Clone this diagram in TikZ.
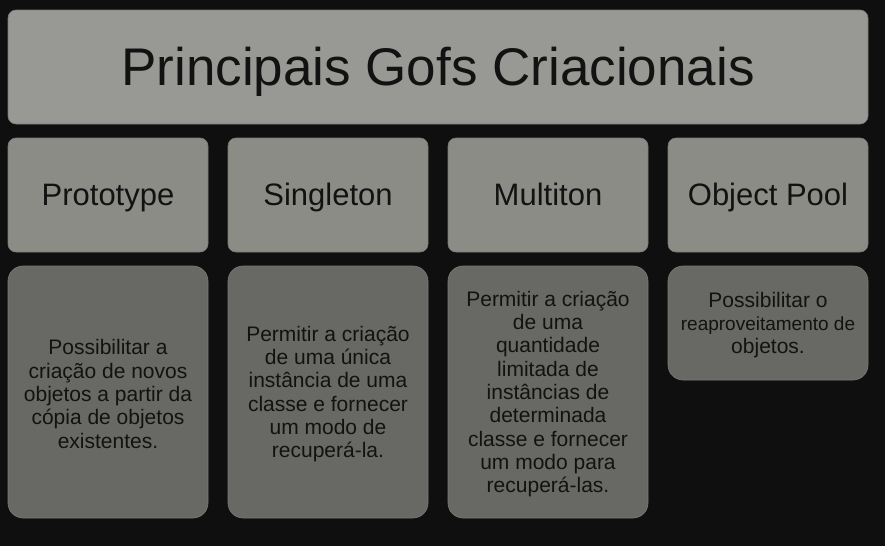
\documentclass[tikz,border=0pt]{standalone}
\usepackage{fontspec}
\setmainfont{Liberation Sans}
\definecolor{bgc}{HTML}{0F0F0F}
\definecolor{titlec}{HTML}{989894}
\definecolor{headc}{HTML}{8C8C87}
\definecolor{descc}{HTML}{686864}
\definecolor{edgec}{HTML}{7A7A76}
\definecolor{txtc}{HTML}{121212}
\tikzset{
  titlebox/.style={fill=titlec, draw=edgec, line width=0.6pt, rounded corners=8pt, inner sep=0pt,
    minimum width=860pt, minimum height=114pt, text=txtc, text height=38pt, text depth=2pt,
    font=\fontsize{53}{60}\selectfont},
  headbox/.style={fill=headc, draw=edgec, line width=0.6pt, rounded corners=8pt, inner sep=0pt,
    minimum width=200pt, minimum height=114pt, text=txtc, text height=22pt, text depth=2pt,
    font=\fontsize{31}{36}\selectfont},
  descbox/.style={fill=descc, draw=edgec, line width=0.6pt, rounded corners=15pt, inner sep=0pt,
    minimum width=200pt, text=txtc, align=center, font=\fontsize{21}{23.3}\selectfont},
}
\begin{document}
\begin{tikzpicture}[x=1pt,y=-1pt]
\fill[bgc] (0,0) rectangle (885,546);
\useasboundingbox (0,0) rectangle (885,546);
\node[titlebox] (title) at (438,67) {Principais Gofs Criacionais};
\node[headbox] (h1) at (108,195) {Prototype};
\node[headbox] (h2) at (328,195) {Singleton};
\node[headbox] (h3) at (548,195) {Multiton};
\node[headbox] (h4) at (768,195) {Object Pool};
\node[descbox, minimum height=252pt] (d1) at (108,392) {};
\node[descbox, minimum height=252pt] (d2) at (328,392) {};
\node[descbox, minimum height=252pt] (d3) at (548,392) {};
\node[descbox, minimum height=114pt] (d4) at (768,323) {};
\node[descbox, fill=none, draw=none, minimum height=0pt] (t1) at ([yshift=-2pt]d1.center) {Possibilitar a\\criação de novos\\objetos a partir da\\cópia de objetos\\existentes.};
\node[descbox, fill=none, draw=none, minimum height=0pt] (t2) at ([yshift=-2pt]d2.center) {Permitir a criação\\de uma única\\instância de uma\\classe e fornecer\\um modo de\\recuperá-la.};
\node[descbox, fill=none, draw=none, minimum height=0pt] (t3) at ([yshift=-2pt]d3.center) {Permitir a criação\\de uma\\quantidade\\limitada de\\instâncias de\\determinada\\classe e fornecer\\um modo para\\recuperá-las.};
\node[descbox, fill=none, draw=none, minimum height=0pt] (t4) at ([yshift=-2pt]d4.center) {Possibilitar o\\{\fontsize{19}{23.3}\selectfont reaproveitamento de}\\objetos.};
\end{tikzpicture}
\end{document}
